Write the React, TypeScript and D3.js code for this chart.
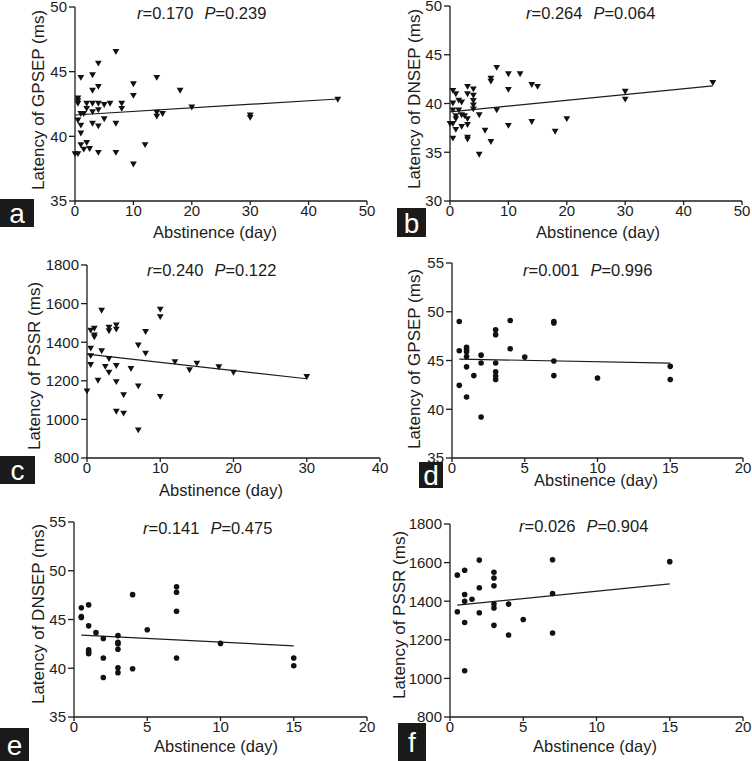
import React from "react";
import * as d3 from "d3";

// ---------- DATA ----------
const aDays = [0, 0.5, 0.5, 0.5, 0.5, 0.5, 1, 1, 1, 1, 1, 1.5, 1.5, 2, 2, 2, 2.5, 3, 3, 3, 3, 3, 4, 4, 4, 4, 4, 4, 5, 5, 6, 7, 7, 7, 8, 8, 10, 10, 10, 12, 14, 14, 14, 15, 18, 20, 30, 30, 45];
const aLat = [38.7, 43.0, 42.8, 42.6, 41.3, 38.7, 44.6, 41.8, 40.9, 40.3, 39.4, 41.8, 39.05, 42.6, 42.2, 39.56, 39.1, 44.8, 43.6, 42.6, 41.95, 41.05, 45.7, 43.9, 42.6, 42.1, 40.85, 38.8, 42.5, 41.4, 42.6, 46.6, 41.05, 38.8, 42.6, 42.2, 44.1, 43.2, 37.9, 39.4, 44.6, 41.9, 41.6, 41.8, 43.6, 42.3, 41.7, 41.5, 42.9];

const bDays = [0, 0.5, 0.5, 0.5, 0.5, 0.5, 1, 1, 1, 1, 1.5, 1.5, 2, 2, 2, 2.5, 3, 3, 3, 3, 3, 3, 4, 4, 4, 4, 4, 5, 5, 6, 7, 7, 7, 8, 8, 10, 10, 10, 12, 14, 14, 15, 18, 20, 30, 30, 45];
const bLat = [38.0, 41.4, 40.1, 39.4, 38.0, 36.5, 41.05, 38.8, 38.5, 37.4, 40.4, 39.4, 40.2, 38.9, 37.7, 38.8, 41.8, 41.05, 38.5, 37.9, 36.6, 36.4, 41.55, 40.9, 40.36, 39.9, 39.5, 38.9, 34.85, 37.3, 42.65, 42.35, 36.15, 43.75, 39.4, 43.1, 41.5, 37.8, 43.1, 42.0, 38.2, 41.8, 37.2, 38.5, 41.3, 40.5, 42.2];

const cDays = [0, 0.5, 0.5, 0.5, 0.5, 1, 1, 1, 1.5, 2, 2, 2.5, 3, 3, 3, 3, 4, 4, 4, 4, 4, 5, 5, 6, 7, 7, 7, 8, 8, 10, 10, 10, 12, 14, 15, 18, 20, 30];
const cLat = [1150, 1465, 1372, 1333, 1287, 1475, 1440, 1430, 1205, 1568, 1358, 1277, 1480, 1462, 1318, 1247, 1492, 1470, 1282, 1198, 1045, 1130, 1035, 1266, 1388, 1176, 948, 1458, 1346, 1574, 1535, 1122, 1302, 1260, 1294, 1275, 1247, 1225];

const dDays = [0.5, 0.5, 0.5, 1, 1, 1, 1, 1, 1, 1.5, 2, 2, 2, 3, 3, 3, 3, 3, 3, 4, 4, 5, 7, 7, 7, 7, 10, 15, 15];
const dLat = [49.0, 46.0, 42.45, 46.35, 46.1, 45.9, 45.4, 44.35, 41.25, 43.45, 45.55, 44.75, 39.2, 48.15, 47.65, 44.75, 43.85, 43.4, 43.05, 49.1, 46.2, 45.35, 49.0, 48.85, 44.95, 43.45, 43.2, 44.4, 43.05];

const eDays = [0.5, 0.5, 0.5, 1, 1, 1, 1, 1, 1.5, 2, 2, 2, 3, 3, 3, 3, 3, 3, 4, 4, 5, 7, 7, 7, 7, 10, 15, 15];
const eLat = [46.2, 45.3, 45.2, 46.5, 44.35, 41.9, 41.7, 41.5, 43.65, 43.05, 41.05, 39.05, 43.35, 42.65, 42.5, 41.95, 40.05, 39.55, 47.55, 39.95, 43.95, 48.35, 47.8, 45.85, 41.05, 42.55, 41.05, 40.25];

const fDays = [0.5, 0.5, 1, 1, 1, 1, 1, 1.5, 2, 2, 2, 3, 3, 3, 3, 3, 3, 4, 4, 5, 7, 7, 7, 15];
const fLat = [1535, 1345, 1560, 1435, 1400, 1290, 1040, 1410, 1613, 1470, 1340, 1550, 1520, 1480, 1385, 1365, 1275, 1385, 1225, 1305, 1615, 1440, 1235, 1605];

// regression lines: [intercept, slope]
const aFit = [41.65, 0.0275];
const bFit = [39.15, 0.059];
const cFit = [1338, -4.25];
const dFit = [45.16, -0.028];
const eFit = [43.43, -0.075];
const fFit = [1376, 7.6];

const statR = ["0.170", "0.264", "0.240", "0.001", "0.141", "0.026"];
const statP = ["0.239", "0.064", "0.122", "0.996", "0.475", "0.904"];

const yTitles = [
  "Latency of GPSEP (ms)",
  "Latency of DNSEP (ms)",
  "Latency of PSSR (ms)",
  "Latency of GPSEP (ms)",
  "Latency of DNSEP (ms)",
  "Latency of PSSR (ms)",
];
const xTitle = "Abstinence (day)";
const panelLetters = ["a", "b", "c", "d", "e", "f"];

const ticks50 = [0, 10, 20, 30, 40, 50];
const ticks40 = [0, 10, 20, 30, 40];
const ticks20 = [0, 5, 10, 15, 20];
const yTicksA = [35, 40, 45, 50];
const yTicksB = [30, 35, 40, 45, 50];
const yTicksMs = [800, 1000, 1200, 1400, 1600, 1800];
const yTicks55 = [35, 40, 45, 50, 55];

// ---------- LAYOUT ----------
const FONT = "'Liberation Sans', Arial, Helvetica, sans-serif";
const INK = "#1c1c1c";

type PanelCfg = {
  days: number[];
  lat: number[];
  fit: number[];
  marker: "tri" | "dot";
  xTicks: number[];
  yTicks: number[];
  x0: number; x1: number; yTop: number; yBot: number;
  yLabelX: number; yLabelY: number;
  xLabelX: number; xLabelY: number;
  statX: number; statY: number;
  box: [number, number, number, number];
};

const panels: PanelCfg[] = [
  { days: aDays, lat: aLat, fit: aFit, marker: "tri", xTicks: ticks50, yTicks: yTicksA,
    x0: 75, x1: 367, yTop: 7, yBot: 201, yLabelX: 44, yLabelY: 100, xLabelX: 215, xLabelY: 238,
    statX: 137, statY: 19, box: [0, 199, 34, 28] },
  { days: bDays, lat: bLat, fit: bFit, marker: "tri", xTicks: ticks50, yTicks: yTicksB,
    x0: 450, x1: 742, yTop: 6, yBot: 201, yLabelX: 420, yLabelY: 99, xLabelX: 598, xLabelY: 238,
    statX: 526, statY: 19, box: [397, 208, 29, 29] },
  { days: cDays, lat: cLat, fit: cFit, marker: "tri", xTicks: ticks40, yTicks: yTicksMs,
    x0: 87, x1: 380, yTop: 265, yBot: 458, yLabelX: 40, yLabelY: 366, xLabelX: 221, xLabelY: 496,
    statX: 147, statY: 276, box: [0, 456, 35, 28] },
  { days: dDays, lat: dLat, fit: dFit, marker: "dot", xTicks: ticks20, yTicks: yTicks55,
    x0: 452, x1: 743, yTop: 263, yBot: 458, yLabelX: 420, yLabelY: 359, xLabelX: 596, xLabelY: 486,
    statX: 523, statY: 276, box: [419, 462, 24, 26] },
  { days: eDays, lat: eLat, fit: eFit, marker: "dot", xTicks: ticks20, yTicks: yTicks55,
    x0: 74, x1: 367, yTop: 522, yBot: 717, yLabelX: 44, yLabelY: 614, xLabelX: 216, xLabelY: 752,
    statX: 143, statY: 534, box: [0, 728, 29, 33] },
  { days: fDays, lat: fLat, fit: fFit, marker: "dot", xTicks: ticks20, yTicks: yTicksMs,
    x0: 450, x1: 743, yTop: 524, yBot: 717, yLabelX: 405, yLabelY: 615, xLabelX: 595, xLabelY: 752,
    statX: 519, statY: 532, box: [398, 723, 28, 38] },
];

const triPath = d3.symbol(d3.symbolTriangle, 20)() as string;

function Panel({ cfg, i }: { cfg: PanelCfg; i: number }) {
  const x = d3.scaleLinear()
    .domain([cfg.xTicks[0], cfg.xTicks[cfg.xTicks.length - 1]])
    .range([cfg.x0, cfg.x1]);
  const y = d3.scaleLinear()
    .domain([cfg.yTicks[0], cfg.yTicks[cfg.yTicks.length - 1]])
    .range([cfg.yBot, cfg.yTop]);
  const ext = d3.extent(cfg.days) as [number, number];
  const line = d3.line<number>()
    .x((d) => x(d))
    .y((d) => y(cfg.fit[0] + cfg.fit[1] * d));
  const [bx, by, bw, bh] = cfg.box;
  return (
    <g>
      <line x1={cfg.x0} x2={cfg.x0} y1={cfg.yTop} y2={cfg.yBot} stroke={INK} strokeWidth={1.3} />
      <line x1={cfg.x0} x2={cfg.x1} y1={cfg.yBot} y2={cfg.yBot} stroke={INK} strokeWidth={1.3} />
      {cfg.yTicks.map((t) => (
        <g key={"y" + t}>
          <line x1={cfg.x0 - 6} x2={cfg.x0} y1={y(t)} y2={y(t)} stroke={INK} strokeWidth={1.3} />
          <text x={cfg.x0 - 8} y={y(t)} dy="0.36em" textAnchor="end" fontSize={15} fill={INK}>{t}</text>
        </g>
      ))}
      {cfg.xTicks.map((t) => (
        <g key={"x" + t}>
          <line x1={x(t)} x2={x(t)} y1={cfg.yBot} y2={cfg.yBot + 4} stroke={INK} strokeWidth={1.3} />
          <text x={x(t)} y={cfg.yBot + 15} textAnchor="middle" fontSize={15} fill={INK}>{t}</text>
        </g>
      ))}
      <path d={line([ext[0], ext[1]]) as string} fill="none" stroke={INK} strokeWidth={1.2} />
      {cfg.days.map((d, k) =>
        cfg.marker === "tri" ? (
          <path key={k} d={triPath} transform={`translate(${x(d)},${y(cfg.lat[k])}) rotate(180)`} fill="#111" />
        ) : (
          <circle key={k} cx={x(d)} cy={y(cfg.lat[k])} r={2.8} fill="#111" />
        )
      )}
      <text x={cfg.xLabelX} y={cfg.xLabelY} textAnchor="middle" fontSize={16.5} fill={INK}>{xTitle}</text>
      <text transform={`translate(${cfg.yLabelX},${cfg.yLabelY}) rotate(-90)`} textAnchor="middle" fontSize={17} fill={INK}>{yTitles[i]}</text>
      <text x={cfg.statX} y={cfg.statY} fontSize={16.5} fill={INK}>
        <tspan fontStyle="italic">r</tspan>
        <tspan>={statR[i]}</tspan>
        <tspan dx={11} fontStyle="italic">P</tspan>
        <tspan>={statP[i]}</tspan>
      </text>
      <rect x={bx} y={by} width={bw} height={bh} fill="#1a1a1a" />
      <text x={bx + bw / 2} y={by + bh / 2} dy="0.36em" textAnchor="middle" fontSize={28} fill="#fff">{panelLetters[i]}</text>
    </g>
  );
}

export default function App() {
  return (
    <svg width={752} height={761} style={{ position: "absolute", left: 0, top: 0, background: "#fff" }} fontFamily={FONT}>
      <rect width={752} height={761} fill="#fff" />
      {panels.map((p, i) => (
        <Panel key={i} cfg={p} i={i} />
      ))}
    </svg>
  );
}
